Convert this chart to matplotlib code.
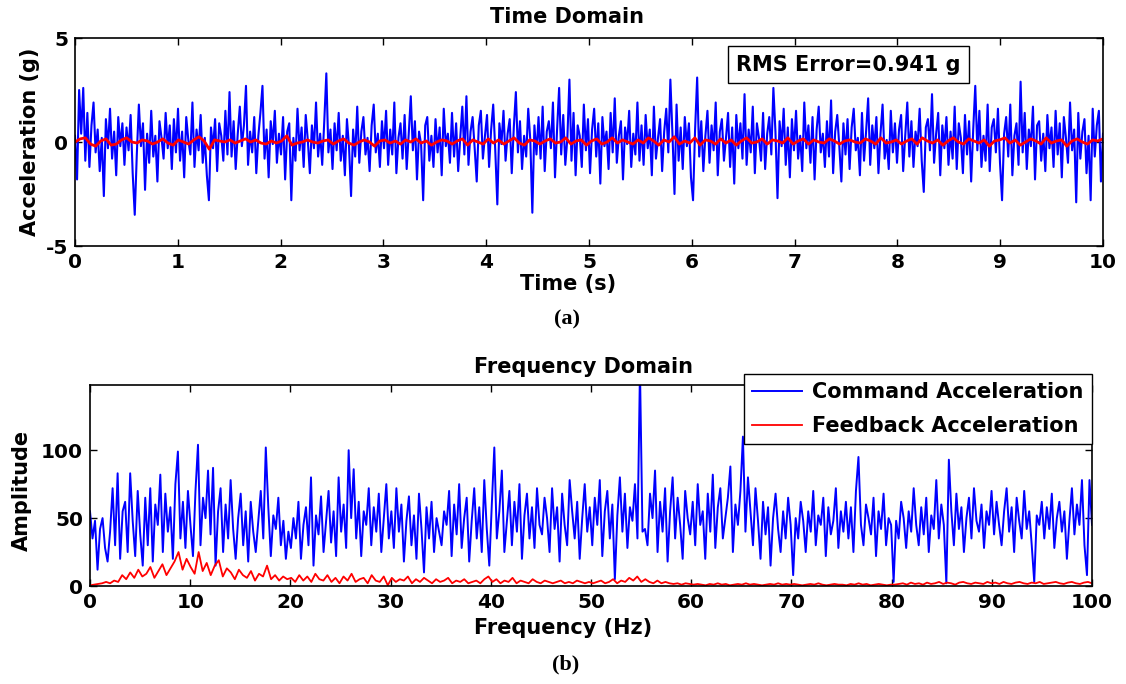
import numpy as np
import matplotlib
matplotlib.use("Agg")
import matplotlib.pyplot as plt

# Command acceleration (g), 10 s record
accel_cmd = [
    0.3, -1.8, 2.5, 0.4, 2.6, -0.9, 1.4, -1.2, 0.8, 1.9, -0.5, 0.6, -1.4, 0.2, -2.6, 1.1, -0.3, 1.6, -0.8, 0.5, -1.6, 1.2, -0.2, 0.9, -1.1,
    0.7, -0.4, 1.3, -1.5, -3.5, -0.6, 1.8, -0.2, 0.9, -2.3, 0.4, -1.0, 1.5, -0.7, 0.3, -1.9, 1.0, 0.2, -0.8, 1.4, -0.3, 0.8, -1.3, 1.1, -0.5,
    1.6, -0.9, 0.5, -1.7, 1.2, 0.1, -0.6, 1.9, -1.2, 0.6, -0.4, 1.3, -1.0, 0.2, -1.6, -2.8, 0.7, -0.3, 1.1, -1.4, 0.9, 0.3, -0.9, 1.5, -0.6,
    2.4, -0.7, 1.0, -1.3, 0.4, 1.7, -0.2, 0.8, 2.7, -1.1, 0.5, -0.5, 1.2, -1.5, 0.3, 1.4, 2.7, -0.8, 0.6, -1.7, 1.0, -0.1, 1.5, -1.0, 0.4,
    -0.6, 1.2, -1.8, 0.5, 0.9, -2.8, 0.2, -0.9, 1.6, -0.4, 0.7, -1.2, 1.3, 0.1, -1.5, 0.8, -0.3, 1.9, -0.7, 0.4, -1.1, 1.0, 3.3, -0.5, 0.6,
    -1.3, 0.9, -0.4, 1.4, -0.9, 0.3, -1.6, 1.1, -0.2, -2.6, 0.6, -0.7, 1.7, -1.0, 0.5, 1.2, -0.6, 0.2, -1.4, 0.8, 1.8, -0.5, 0.4, -1.2, 1.0,
    -0.3, 1.5, -1.1, 0.6, -0.6, 1.9, -1.5, 0.2, 0.9, -0.8, 1.3, -1.3, 0.4, 2.2, -0.4, 1.0, -1.8, 0.5, -0.1, -2.8, 0.8, 1.2, -0.9, 0.3, -1.2,
    1.1, -0.5, 0.7, -1.6, 1.6, -0.2, 0.4, -1.0, 1.4, -0.7, 0.9, -1.4, 0.2, 1.7, -0.6, 2.2, -1.1, 0.5, 1.2, -0.3, -1.9, 0.8, 1.5, -0.8, 0.3,
    1.3, -1.2, 0.6, 1.8, -0.4, -3.0, 0.9, -0.1, 1.5, -0.9, 0.4, 1.1, -1.5, 0.7, 2.4, -0.5, 1.0, -1.3, 0.3, -0.7, 1.6, 0.1, -3.4, 0.8, -0.6,
    1.2, -0.8, 1.7, -1.4, 0.5, 1.0, -0.3, 1.9, -1.7, 0.6, 2.6, -0.6, 1.3, -1.1, 0.2, 3.0, -0.9, 1.4, -1.6, 0.8, 0.3, -1.2, 1.8, -0.4, 1.1,
    -1.5, 0.6, 1.6, -0.7, 0.9, -2.0, 1.2, -0.2, 0.5, -1.3, 1.4, -0.5, 2.1, -1.0, 0.3, 1.0, -1.8, 0.7, -0.1, 1.5, -1.2, 0.4, -0.6, 1.9, -0.9,
    0.8, -1.1, 1.3, -0.3, 0.6, -1.6, 1.7, -0.8, 0.2, 1.1, -1.4, 0.5, 1.6, -0.5, 3.0, 0.4, -2.5, 1.8, -0.9, 0.7, -1.3, 1.2, -0.2, 0.9, -1.7,
    -2.8, 0.6, 3.1, -0.7, 1.0, -1.4, 0.3, 1.5, -1.0, 0.8, -0.4, 1.9, -1.6, 0.5, 1.1, -0.9, 0.2, 1.4, -1.2, 0.7, -2.0, 1.3, -0.3, 0.9, -0.8,
    2.3, -1.1, 0.6, -0.5, 1.7, -1.5, 0.9, 0.2, -0.9, 1.4, -1.3, 0.4, 1.2, -0.6, 2.6, 0.5, -2.7, 1.0, -0.2, 1.6, -1.1, 0.7, -1.7, 1.1, -0.4,
    1.5, -0.8, 0.3, -1.4, 1.9, -0.3, 0.8, -1.0, 1.2, -1.8, 0.6, 1.7, -0.5, 0.4, -1.2, 1.0, -0.7, 2.0, -1.5, 0.5, 1.3, -0.2, -1.9, 0.9, -0.6,
    1.1, -1.3, 0.7, 1.6, -0.4, 0.2, -1.6, 1.4, -0.9, 0.5, 2.1, -1.1, 0.8, -0.3, 1.2, -1.5, 0.4, 1.8, -0.8, 0.1, -1.3, 1.5, -0.5, 0.9, -1.0,
    0.6, 1.3, -1.4, 0.3, 1.9, -0.7, 1.0, -1.2, 0.5, -0.2, 1.6, -0.9, -2.4, 0.7, 1.1, -0.4, 2.3, -1.0, 0.4, 1.4, -1.6, 0.8, -0.3, 1.2, -1.1,
    0.5, -0.8, 1.7, -1.3, 0.9, 0.2, -1.5, 1.3, -0.6, 1.0, -1.9, 0.6, 2.7, -0.4, 1.5, -1.2, 0.3, -0.9, 1.8, -1.4, 0.7, 1.1, -0.5, 1.6, -1.0,
    -2.8, 0.4, 1.2, -0.7, 1.8, -1.6, 0.3, 0.9, -1.1, 2.9, -0.5, 1.4, -1.3, 0.6, -0.2, 1.7, -1.8, 0.8, 1.0, -0.9, 0.4, -1.4, 1.3, -0.3, 0.7,
    -1.2, 1.5, -0.6, 0.9, -1.7, 1.2, 0.2, -1.0, 1.9, -0.4, 0.6, -2.9, 1.4, -0.8, 0.5, 1.1, -1.5, 0.3, -2.8, 1.6, -0.7, 0.8, 1.5, -1.9, 0.4,
]

# Feedback acceleration (g)
accel_fb = [
    0.0, 0.15, 0.2, -0.1, -0.2, 0.05, 0.15, -0.15, -0.1, 0.1, 0.2, 0.0, -0.05, 0.1, 0.05, -0.1, 0.0, 0.15, -0.05, -0.15,
    0.1, 0.0, -0.1, 0.1, 0.25, 0.05, -0.35, 0.1, 0.05, 0.0, 0.1, -0.05, 0.05, 0.15, 0.0, 0.1, -0.05, -0.1, 0.05, -0.05,
    0.05, 0.3, -0.15, -0.05, 0.0, 0.1, 0.0, -0.05, 0.05, 0.1, -0.1, 0.05, 0.15, -0.05, -0.15, 0.0, 0.1, 0.0, -0.2, 0.05,
    0.1, -0.05, 0.05, -0.1, 0.1, 0.0, 0.15, -0.05, 0.05, -0.15, 0.0, 0.1, 0.05, -0.1, 0.05, 0.15, -0.15, 0.1, 0.0, -0.1,
    0.15, -0.05, 0.1, -0.1, 0.05, 0.2, -0.05, -0.15, 0.1, 0.05, -0.1, 0.05, 0.15, -0.05, 0.0, 0.2, -0.1, 0.05, 0.1, -0.15,
    0.05, 0.15, -0.1, 0.0, 0.2, -0.05, 0.1, 0.0, -0.1, 0.1, -0.05, 0.2, 0.05, -0.15, 0.1, 0.0, 0.25, -0.1, 0.05, -0.05,
    0.2, -0.15, 0.1, 0.05, -0.1, 0.15, -0.05, 0.1, -0.15, 0.05, 0.2, -0.05, 0.0, 0.15, -0.1, 0.1, 0.05, -0.05, 0.2, -0.1,
    0.05, 0.15, -0.1, 0.1, 0.0, -0.05, 0.15, 0.05, -0.1, 0.05, 0.1, 0.0, -0.05, 0.15, 0.05, -0.1, 0.2, -0.05, 0.0, 0.1,
    -0.1, 0.05, 0.15, -0.1, 0.2, 0.05, -0.05, 0.1, -0.15, 0.05, 0.2, 0.0, -0.1, 0.15, 0.05, -0.05, 0.1, -0.2, 0.05, 0.1,
    0.2, -0.05, 0.1, -0.15, 0.0, 0.15, 0.05, -0.1, 0.2, -0.05, 0.05, 0.1, -0.2, 0.05, 0.15, 0.0, -0.1, 0.1, 0.05, 0.15,
]

# FFT amplitude of command signal, 0-100 Hz
amp_cmd = [
    55, 35, 48, 12, 42, 50, 28, 18, 40, 72, 30, 83, 20, 55, 62, 25, 83, 48, 22, 70,
    38, 15, 65, 30, 72, 18, 60, 45, 82, 25, 68, 40, 58, 20, 75, 99, 35, 62, 28, 70,
    45, 22, 70, 104, 30, 65, 50, 85, 38, 87, 15, 55, 72, 25, 60, 35, 78, 42, 20, 50,
    68, 30, 55, 18, 62, 40, 25, 48, 70, 35, 102, 58, 22, 52, 42, 65, 30, 48, 20, 40,
    28, 50, 35, 62, 20, 45, 58, 30, 80, 15, 52, 38, 66, 25, 48, 70, 32, 55, 22, 80,
    40, 60, 28, 100, 50, 86, 35, 62, 22, 55, 45, 72, 30, 58, 40, 68, 25, 50, 75, 35,
    55, 28, 72, 40, 60, 18, 48, 66, 30, 52, 20, 68, 42, 10, 58, 35, 62, 25, 50, 40,
    30, 55, 45, 70, 22, 60, 38, 75, 28, 50, 65, 18, 48, 72, 35, 58, 25, 78, 42, 15,
    60, 102, 35, 55, 85, 25, 48, 70, 30, 62, 40, 75, 20, 52, 68, 35, 58, 28, 72, 45,
    38, 65, 50, 25, 72, 42, 58, 18, 68, 45, 30, 78, 55, 35, 62, 20, 50, 75, 40, 58,
    30, 65, 45, 78, 22, 55, 70, 35, 60, 5, 52, 80, 40, 68, 28, 58, 48, 75, 35, 160,
    40, 42, 30, 68, 50, 85, 25, 62, 40, 72, 18, 55, 80, 35, 65, 45, 20, 70, 50, 38,
    62, 30, 75, 45, 55, 20, 68, 40, 82, 28, 58, 72, 35, 50, 65, 88, 25, 60, 45, 70,
    110, 40, 80, 55, 30, 72, 48, 20, 62, 38, 58, 15, 50, 68, 42, 25, 55, 35, 65, 45,
    8, 50, 35, 62, 48, 25, 55, 40, 70, 30, 52, 45, 65, 22, 58, 38, 48, 72, 28, 55,
    40, 62, 35, 58, 25, 70, 95, 45, 30, 60, 50, 38, 65, 22, 55, 42, 68, 30, 50, 45,
    3, 48, 35, 62, 50, 28, 55, 40, 72, 45, 30, 58, 38, 65, 25, 52, 42, 78, 35, 60,
    45, 2, 93, 55, 30, 68, 42, 58, 25, 50, 65, 35, 72, 48, 40, 60, 28, 55, 45, 70,
    38, 62, 45, 30, 55, 72, 40, 58, 25, 65, 48, 35, 70, 42, 55, 30, 3, 52, 45, 62,
    35, 58, 42, 68, 28, 50, 62, 40, 55, 20, 48, 72, 38, 60, 45, 78, 30, 8, 78, 45,
]

# FFT amplitude of feedback signal
amp_fb = [
    0.5, 1, 1.5, 2, 3, 2, 4, 3, 8, 5, 10, 6, 12, 7, 9, 14, 6, 11, 16, 8, 13, 18, 25, 12, 20,
    14, 9, 25, 11, 17, 8, 15, 19, 7, 13, 10, 5, 12, 8, 6, 11, 4, 9, 7, 15, 5, 8, 4, 7, 5,
    6, 3, 8, 4, 7, 3, 9, 5, 4, 8, 3, 6, 2, 7, 4, 9, 3, 5, 6, 2, 8, 4, 3, 7, 0.5,
    6, 3, 5, 4, 7, 2, 5, 3, 6, 4, 2, 5, 3, 4, 6, 2, 4, 3, 5, 2, 3, 4, 2, 5, 7,
    3, 5, 2, 4, 3, 6, 2, 4, 3, 2, 5, 3, 2, 4, 3, 2, 3, 4, 2, 3, 2, 4, 3, 2, 3,
    2, 3, 4, 2, 3, 5, 2, 4, 3, 6, 4, 7, 3, 5, 3, 2, 4, 2, 3, 2, 1.5, 2, 1, 2, 1.5,
    1, 1.5, 1, 0.5, 1.5, 1, 2, 1, 1.5, 0.5, 1, 1.5, 1, 2, 1, 1.5, 1, 0.5, 1, 1.5, 1, 2, 1, 1.5, 1,
    1.5, 1, 0.5, 1, 1.5, 1, 2, 1, 0.5, 1, 1.5, 1, 1, 0.5, 1.5, 1, 2, 1, 1.5, 0.5, 1, 1.5, 1, 0.5, 1,
    1, 1.5, 2, 1, 2.5, 1.5, 2, 1, 2.5, 1.5, 2, 3, 1.5, 2.5, 2, 1, 2.5, 3, 2, 1.5, 2.5, 2, 1.5, 3, 2,
    2.5, 1.5, 3, 2, 1.5, 2.5, 3, 2, 1.5, 2.5, 2, 3, 1.5, 2, 2.5, 3, 2, 1.5, 2.5, 3, 2, 1.5, 2.5, 3, 2,
]

rms_label = "RMS Error=0.941 g"
legend_labels = ["Command Acceleration", "Feedback Acceleration"]

plt.rcParams["font.family"] = "DejaVu Sans"
plt.rcParams["font.weight"] = "bold"
plt.rcParams["axes.unicode_minus"] = False
FS = 15      # labels / titles
TFS = 14.5   # tick labels

W, H = 1126, 684
fig = plt.figure(figsize=(W / 100, H / 100), dpi=100)


def fbox(x0, y0, x1, y1):
    # pixel box (top-left origin) -> figure fraction rect
    return [x0 / W, 1 - y1 / H, (x1 - x0) / W, (y1 - y0) / H]


def style_axes(ax):
    ax.tick_params(direction="in", length=5, width=1, top=True, right=True,
                   labelsize=TFS, pad=5)
    for lbl in ax.get_xticklabels() + ax.get_yticklabels():
        lbl.set_fontweight("bold")
    for sp in ax.spines.values():
        sp.set_linewidth(1.2)


# time domain
ax1 = fig.add_axes(fbox(75, 38, 1103, 246))
t_cmd = np.linspace(0, 10, len(accel_cmd))
t_fb = np.linspace(0, 10, len(accel_fb))
ax1.plot(t_cmd, accel_cmd, color="#0000ff", lw=1.5)
ax1.plot(t_fb, accel_fb, color="#ff0000", lw=2.0)
ax1.set_xlim(0, 10)
ax1.set_ylim(-5, 5)
ax1.set_xticks(range(0, 11))
ax1.set_yticks([-5, 0, 5])
style_axes(ax1)
ax1.text(0.7525, 0.872, rms_label, transform=ax1.transAxes, ha="center", va="center",
         fontsize=FS, fontweight="bold",
         bbox=dict(boxstyle="square,pad=0.4", fc="white", ec="black", lw=1))

fig.text(567 / W, 1 - 17 / H, "Time Domain", ha="center", va="center", fontsize=FS, fontweight="bold")
fig.text(30 / W, 1 - 142 / H, "Acceleration (g)", ha="center", va="center", rotation=90,
         fontsize=FS, fontweight="bold")
fig.text(568 / W, 1 - 284 / H, "Time (s)", ha="center", va="center", fontsize=FS, fontweight="bold")
fig.text(567 / W, 1 - 319 / H, "(a)", ha="center", va="center", fontsize=16,
         fontweight="bold", family="Liberation Serif")

# frequency domain
ax2 = fig.add_axes(fbox(90, 385, 1092, 586))
f_cmd = np.linspace(0, 100, len(amp_cmd))
f_fb = np.linspace(0, 100, len(amp_fb))
ax2.plot(f_cmd, amp_cmd, color="#0000ff", lw=1.4, label=legend_labels[0])
ax2.plot(f_fb, amp_fb, color="#ff0000", lw=1.3, label=legend_labels[1])
ax2.set_xlim(0, 100)
ax2.set_ylim(0, 148)
ax2.set_xticks(range(0, 101, 10))
ax2.set_yticks([0, 50, 100])
style_axes(ax2)
leg = ax2.legend(loc="upper right", bbox_to_anchor=(1.0, 1.055), borderaxespad=0,
                 fancybox=False, framealpha=1, edgecolor="black",
                 prop=dict(size=FS, weight="bold"), handlelength=2.4,
                 borderpad=0.4, labelspacing=0.65, handletextpad=0.5)
leg.get_frame().set_linewidth(1.0)

fig.text(583 / W, 1 - 367 / H, "Frequency Domain", ha="center", va="center", fontsize=FS, fontweight="bold")
fig.text(22 / W, 1 - 490 / H, "Amplitude", ha="center", va="center", rotation=90,
         fontsize=FS, fontweight="bold")
fig.text(563 / W, 1 - 628 / H, "Frequency (Hz)", ha="center", va="center", fontsize=FS, fontweight="bold")
fig.text(566 / W, 1 - 664 / H, "(b)", ha="center", va="center", fontsize=16,
         fontweight="bold", family="Liberation Serif")

fig.savefig("out.png", dpi=100)
